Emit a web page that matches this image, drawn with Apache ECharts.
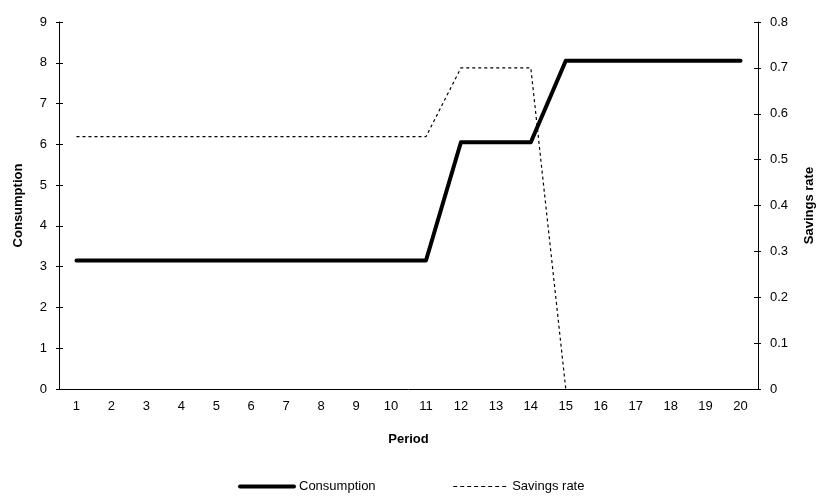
<!DOCTYPE html>
<html>
<head>
<meta charset="utf-8">
<script src="https://cdn.jsdelivr.net/npm/echarts@6/dist/echarts.min.js"></script>
<style>
  html, body { margin: 0; padding: 0; background: #fff; }
  #chart { width: 824px; height: 498px; }
</style>
</head>
<body>
<div id="chart"></div>
<script>
// periods on the x axis
const periods = ['1', '2', '3', '4', '5', '6', '7', '8', '9', '10',
  '11', '12', '13', '14', '15', '16', '17', '18', '19', '20'];
// consumption (left axis)
const consumption = [3.15, 3.15, 3.15, 3.15, 3.15, 3.15, 3.15, 3.15, 3.15, 3.15,
  3.15, 6.05, 6.05, 6.05, 8.05, 8.05, 8.05, 8.05, 8.05, 8.05];
// savings rate (right axis), stops after period 15
const savingsRate = [0.55, 0.55, 0.55, 0.55, 0.55, 0.55, 0.55, 0.55, 0.55, 0.55,
  0.55, 0.70, 0.70, 0.70, 0, null, null, null, null, null];

const font = 'Liberation Sans, Arial, sans-serif';
const axisLabelStyle = { color: '#000', fontFamily: font, fontSize: 13 };
const nameStyle = { color: '#000', fontFamily: font, fontSize: 13, fontWeight: 'bold' };

const chart = echarts.init(document.getElementById('chart'));
chart.setOption({
  animation: false,
  backgroundColor: '#fff',
  grid: { left: 59, right: 63, top: 22, bottom: 109 },
  legend: {
    bottom: 0,
    left: 233,
    itemWidth: 54,
    itemHeight: 10,
    itemGap: 77,
    itemStyle: { opacity: 0 },
    textStyle: { color: '#000', fontFamily: font, fontSize: 13 },
    data: [
      { name: 'Consumption', lineStyle: { width: 4 } },
      { name: 'Savings rate', lineStyle: { width: 1.2, type: [4, 3] } }
    ]
  },
  xAxis: [
    {
      type: 'category',
      data: periods,
      boundaryGap: true,
      name: 'Period',
      nameLocation: 'middle',
      nameGap: 44,
      nameTextStyle: nameStyle,
      axisLine: { lineStyle: { color: '#000', width: 1 } },
      axisTick: { inside: true, length: 4, lineStyle: { color: '#000' } },
      axisLabel: Object.assign({ margin: 11 }, axisLabelStyle),
      splitLine: { show: false }
    },
    {
      // second pass of the same axis so the ticks cross the line
      type: 'category',
      data: periods,
      position: 'bottom',
      axisLine: { show: false },
      axisTick: { inside: false, length: 4, lineStyle: { color: '#000' } },
      axisLabel: { show: false },
      splitLine: { show: false }
    }
  ],
  yAxis: [
    {
      type: 'value',
      min: 0,
      max: 9,
      interval: 1,
      name: 'Consumption',
      nameLocation: 'middle',
      nameGap: 34,
      nameRotate: 90,
      nameTextStyle: nameStyle,
      axisLine: { show: true, lineStyle: { color: '#000' } },
      axisTick: { show: true, inside: true, length: 4, lineStyle: { color: '#000' } },
      axisLabel: Object.assign({ margin: 12 }, axisLabelStyle),
      splitLine: { show: false }
    },
    {
      type: 'value',
      min: 0,
      max: 0.8,
      interval: 0.1,
      position: 'right',
      name: 'Savings rate',
      nameLocation: 'middle',
      nameGap: 45,
      nameRotate: 90,
      nameTextStyle: nameStyle,
      axisLine: { show: true, lineStyle: { color: '#000' } },
      axisTick: { show: true, inside: true, length: 4, lineStyle: { color: '#000' } },
      axisLabel: Object.assign({ margin: 12 }, axisLabelStyle),
      splitLine: { show: false }
    },
    {
      // outside ticks for the left axis
      type: 'value', min: 0, max: 9, interval: 1, position: 'left',
      axisLine: { show: false },
      axisTick: { show: true, length: 3, lineStyle: { color: '#000' } },
      axisLabel: { show: false },
      splitLine: { show: false }
    },
    {
      // outside ticks for the right axis
      type: 'value', min: 0, max: 0.8, interval: 0.1, position: 'right',
      axisLine: { show: false },
      axisTick: { show: true, length: 3, lineStyle: { color: '#000' } },
      axisLabel: { show: false },
      splitLine: { show: false }
    }
  ],
  series: [
    {
      name: 'Consumption',
      type: 'line',
      data: consumption,
      yAxisIndex: 0,
      symbol: 'none',
      color: '#000',
      lineStyle: { color: '#000', width: 4, join: 'round', cap: 'round' },
      z: 3
    },
    {
      name: 'Savings rate',
      type: 'line',
      data: savingsRate,
      yAxisIndex: 1,
      symbol: 'none',
      color: '#000',
      connectNulls: false,
      lineStyle: { color: '#000', width: 1.2, type: [3, 3] },
      z: 2
    }
  ]
});
</script>
</body>
</html>
